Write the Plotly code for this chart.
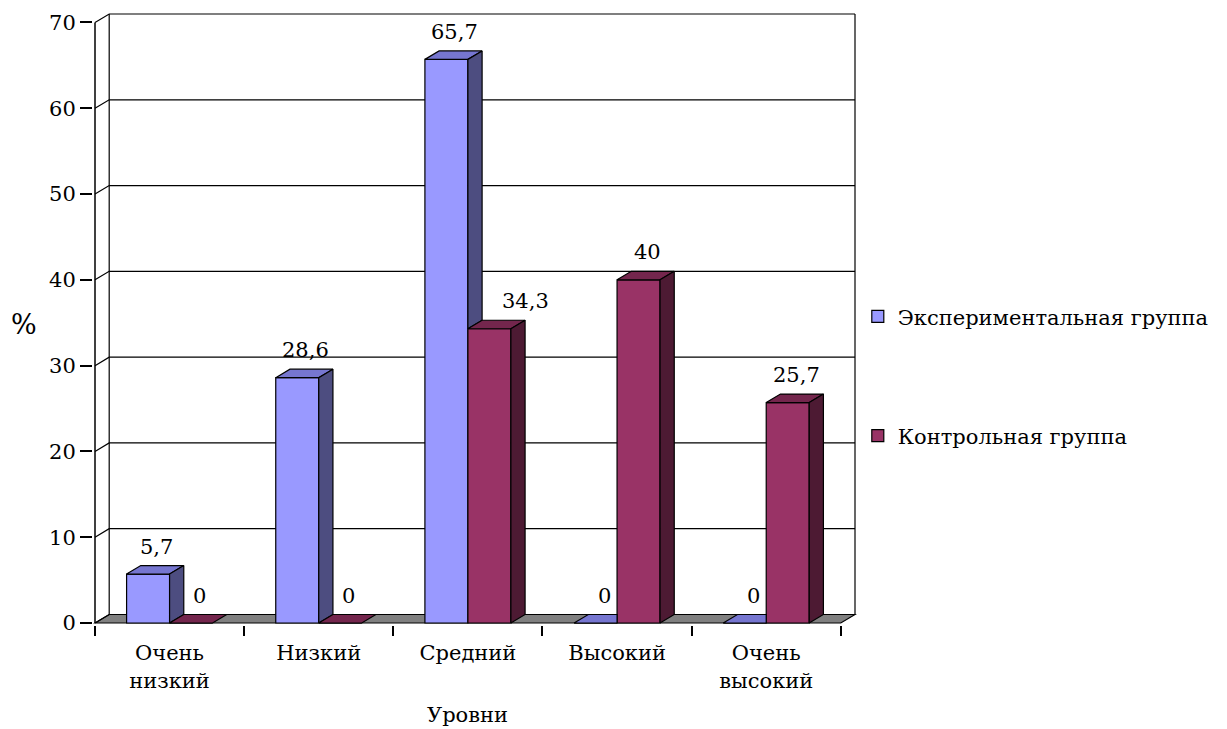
import plotly.graph_objects as go

# ---------------- data ----------------
categories = ["Очень<br>низкий", "Низкий", "Средний", "Высокий", "Очень<br>высокий"]
series_names = ["Экспериментальная группа", "Контрольная группа"]
exp_values = [5.7, 28.6, 65.7, 0, 0]
ctrl_values = [0, 0, 34.3, 40, 25.7]
y_ticks = [0, 10, 20, 30, 40, 50, 60, 70]
x_title = "Уровни"
y_title = "%"

# ---------------- styling / geometry ----------------
FONT = "DejaVu Serif, Liberation Serif, serif"
FS = 21
W, H = 1227, 729
n = len(categories)
ymax = max(y_ticks)

X_LEFT_PX, X_RIGHT_PX = 95.0, 841.0     # front x-axis extent in pixels
Y_ZERO_PX, Y_TOP_PX = 623.0, 22.0       # front y=0 and y=ymax pixels
sx = (X_RIGHT_PX - X_LEFT_PX) / n
sy = (Y_ZERO_PX - Y_TOP_PX) / ymax
DX = 14.2 / sx          # depth offset in x units
DY = 8.5 / sy           # depth offset in y units
PAD = 2.0               # pixel padding so edge lines are not clipped
BW = 43.0 / sx          # bar width in x units

x_lo = -0.5 - PAD / sx
x_hi = n - 0.5 + DX + PAD / sx
y_lo = 0 - PAD / sy
y_hi = ymax + DY + PAD / sy

ml = X_LEFT_PX - PAD
plot_w = (x_hi - x_lo) * sx
mr = W - ml - plot_w
mt = Y_ZERO_PX - ymax * sy - DY * sy - PAD
plot_h = (y_hi - y_lo) * sy
mb = H - mt - plot_h


def px_to_paper_x(px):
    return (px - ml) / plot_w


def px_to_paper_y(py):
    return (H - mb - py) / plot_h


def text_width_px(txt, size):
    w = 0.0
    for ch in txt:
        w += 0.32 if ch in ",." else 0.64
    return w * size


series = [
    dict(name=series_names[0], values=exp_values, offset=-BW,
         front="#9999FF", top="#7676D0", side="#4D4D80"),
    dict(name=series_names[1], values=ctrl_values, offset=0.0,
         front="#993366", top="#74264D", side="#4D1A33"),
]

fig = go.Figure()

# front faces as bars
for s in series:
    fig.add_trace(go.Bar(
        x=list(range(n)), y=s["values"], width=BW, offset=s["offset"],
        name=s["name"], marker=dict(color=s["front"], line=dict(color="black", width=1.2)),
        cliponaxis=False, legendgroup=s["name"],
    ))


def poly(xs, ys, color):
    fig.add_trace(go.Scatter(
        x=xs + [xs[0]], y=ys + [ys[0]], mode="lines", fill="toself",
        fillcolor=color, line=dict(color="black", width=1.2),
        hoverinfo="skip", showlegend=False,
    ))


annotations = []
for i in range(n):
    for k, s in enumerate(series):
        v = s["values"][i]
        x0 = i + s["offset"]
        x1 = x0 + BW
        # neighbour bar standing directly to the right (same depth) hides part of faces
        c = series[k + 1]["values"][i] if k + 1 < len(series) else None
        # top face
        if c is not None and c >= v + DY:
            poly([x0, x0 + DX, x1, x1], [v, v + DY, v + DY, v], s["top"])
        else:
            poly([x0, x0 + DX, x1 + DX, x1], [v, v + DY, v + DY, v], s["top"])
        # side face
        base = c if (c is not None) else 0
        base = max(base, 0)
        if v > base:
            poly([x1, x1 + DX, x1 + DX, x1], [base, base + DY, v + DY, v], s["side"])
        # data label (moved right when it would hit a taller left neighbour)
        label = f"{v:g}".replace(".", ",")
        cx = (x0 + x1) / 2 + DX * 0.6
        left = series[k - 1]["values"][i] if k > 0 else None
        half_w = text_width_px(label, FS) / 2
        if left is not None and left > v + DY and (cx - (x0 + DX)) * sx < half_w + 3:
            ann = dict(x=x0 + DX, xanchor="left", xshift=18)
        else:
            ann = dict(x=cx, xanchor="center")
        ann.update(
            y=v + DY, xref="x", yref="y",
            text=label, showarrow=False,
            yanchor="bottom", yshift=5,
            font=dict(family=FONT, size=FS, color="black"),
        )
        annotations.append(ann)

# walls, floor, gridlines (below the bars)
shapes = []
xa, xb = -0.5, n - 0.5
shapes.append(dict(
    type="path", xref="x", yref="y", layer="below",
    path=f"M {xa},0 L {xb},0 L {xb + DX},{DY} L {xa + DX},{DY} Z",
    fillcolor="#808080", line=dict(color="black", width=1.2),
))
for t in y_ticks:
    shapes.append(dict(
        type="path", xref="x", yref="y", layer="below",
        path=f"M {xa},{t} L {xa + DX},{t + DY} L {xb + DX},{t + DY}",
        line=dict(color="black", width=1.2),
    ))
shapes.append(dict(type="line", xref="x", yref="y", layer="below",
                   x0=xa, x1=xa, y0=0, y1=ymax, line=dict(color="black", width=1.5)))
shapes.append(dict(type="line", xref="x", yref="y", layer="below",
                   x0=xa + DX, x1=xa + DX, y0=DY, y1=ymax + DY, line=dict(color="black", width=1.2)))
shapes.append(dict(type="line", xref="x", yref="y", layer="below",
                   x0=xb + DX, x1=xb + DX, y0=DY, y1=ymax + DY, line=dict(color="black", width=1.2)))

# axis titles
annotations.append(dict(
    x=px_to_paper_x(24), y=px_to_paper_y(324), xref="paper", yref="paper",
    text=y_title, showarrow=False, xanchor="center", yanchor="middle",
    font=dict(family=FONT, size=27, color="black"),
))
annotations.append(dict(
    x=px_to_paper_x(468), y=px_to_paper_y(729), xref="paper", yref="paper",
    text=x_title, showarrow=False, xanchor="center", yanchor="bottom",
    font=dict(family=FONT, size=FS, color="black"),
))

boundaries = [i - 0.5 for i in range(n + 1)]

fig.update_layout(
    width=W, height=H,
    margin=dict(l=ml, r=mr, t=mt, b=mb, pad=0),
    paper_bgcolor="white", plot_bgcolor="white",
    font=dict(family=FONT, size=FS, color="black"),
    showlegend=True,
    legend=dict(
        x=px_to_paper_x(858), y=px_to_paper_y(296), xanchor="left", yanchor="top",
        font=dict(family=FONT, size=FS, color="black"),
        traceorder="grouped", tracegroupgap=89, bgcolor="rgba(0,0,0,0)",
        itemwidth=30,
    ),
    xaxis=dict(
        range=[x_lo, x_hi], showgrid=False, zeroline=False, showline=False,
        tickmode="array", tickvals=list(range(n)), ticktext=categories,
        ticks="outside", ticklen=9, tickcolor="rgba(0,0,0,0)",
        tickfont=dict(family=FONT, size=FS, color="black"),
        minor=dict(tickvals=boundaries, ticks="outside", ticklen=10,
                   tickcolor="black", tickwidth=1.5, showgrid=False),
        fixedrange=True,
    ),
    yaxis=dict(
        range=[y_lo, y_hi], showgrid=False, zeroline=False, showline=False,
        tickmode="array", tickvals=y_ticks, ticktext=[str(t) for t in y_ticks],
        ticks="outside", ticklen=12, tickcolor="black", tickwidth=1.5,
        tickfont=dict(family=FONT, size=FS, color="black"),
        fixedrange=True,
    ),
    shapes=shapes,
    annotations=annotations,
    barmode="overlay",
)

fig.write_html("out.html")
